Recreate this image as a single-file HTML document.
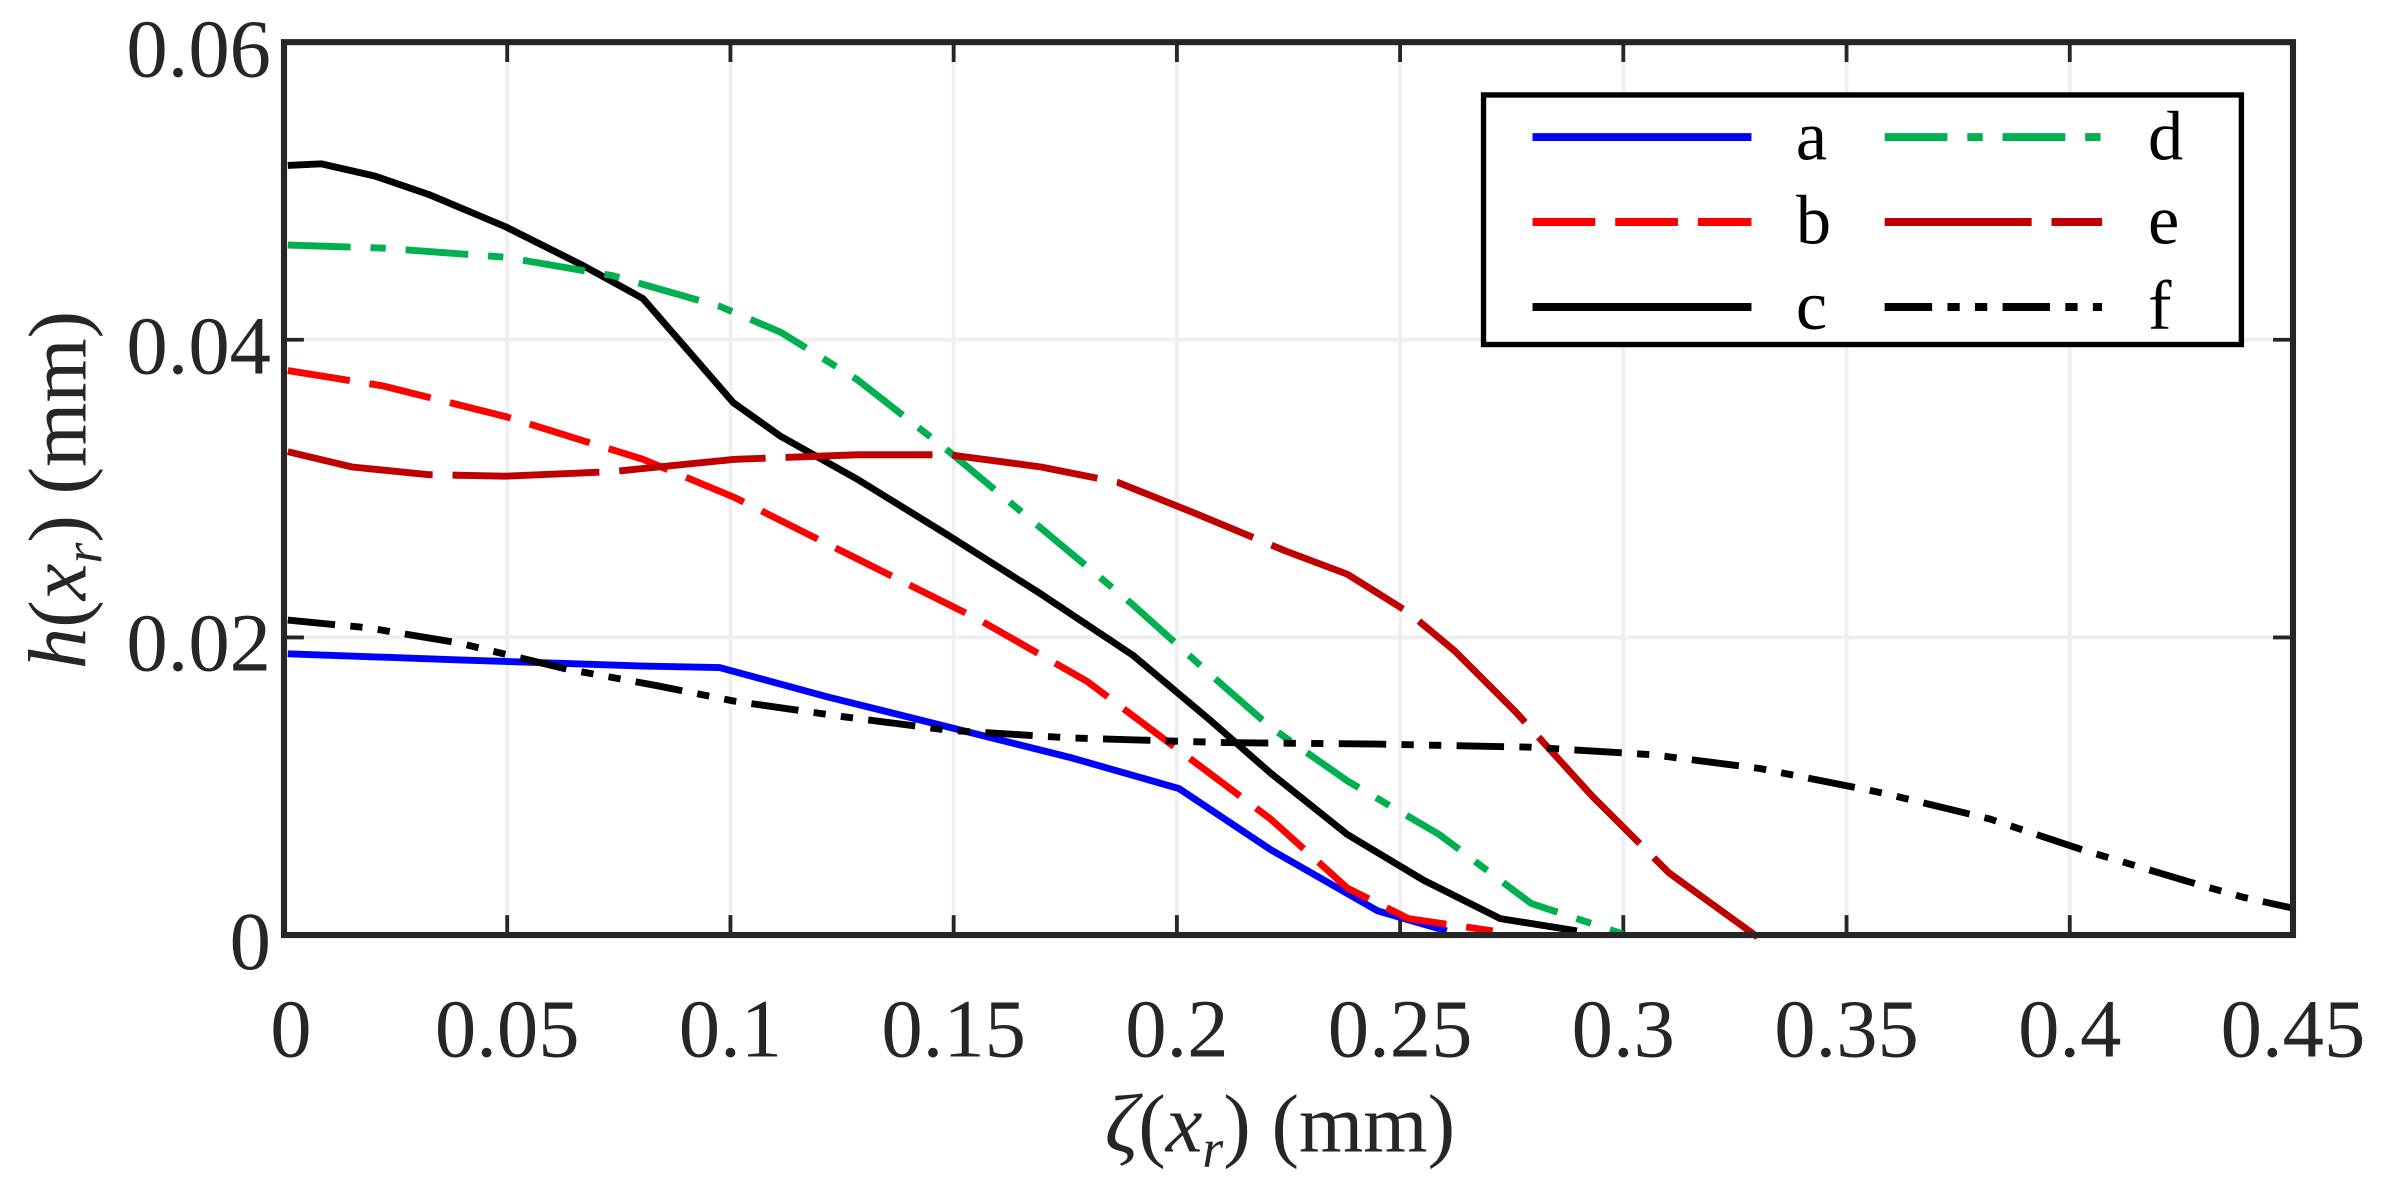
<!DOCTYPE html>
<html><head><meta charset="utf-8"><style>
html,body{margin:0;padding:0;background:#fff;}
svg{display:block;}
text{font-family:"Liberation Serif",serif;fill:#262626;}
</style></head><body>
<svg width="2400" height="1186" viewBox="0 0 1567.6 774.6" xmlns="http://www.w3.org/2000/svg">
<rect x="0" y="0" width="1567.6" height="774.6" fill="#fff"/>
<g stroke="#efefef" stroke-width="2.5">
<line x1="331.3" y1="27.5" x2="331.3" y2="610.7"/>
<line x1="477.1" y1="27.5" x2="477.1" y2="610.7"/>
<line x1="622.9" y1="27.5" x2="622.9" y2="610.7"/>
<line x1="768.7" y1="27.5" x2="768.7" y2="610.7"/>
<line x1="914.5" y1="27.5" x2="914.5" y2="610.7"/>
<line x1="1060.3" y1="27.5" x2="1060.3" y2="610.7"/>
<line x1="1206.1" y1="27.5" x2="1206.1" y2="610.7"/>
<line x1="1351.9" y1="27.5" x2="1351.9" y2="610.7"/>
<line x1="185.5" y1="416.3" x2="1497.7" y2="416.3"/>
<line x1="185.5" y1="221.9" x2="1497.7" y2="221.9"/>
</g>
<g stroke="#262626" stroke-width="2.5">
<path d="M331.3 610.7v-13M477.1 610.7v-13M622.9 610.7v-13M768.7 610.7v-13M914.5 610.7v-13M1060.3 610.7v-13M1206.1 610.7v-13M1351.9 610.7v-13"/>
<path d="M331.3 27.5v13M477.1 27.5v13M622.9 27.5v13M768.7 27.5v13M914.5 27.5v13M1060.3 27.5v13M1206.1 27.5v13M1351.9 27.5v13"/>
<path d="M185.5 416.3h13M185.5 221.9h13M1497.7 416.3h-13M1497.7 221.9h-13"/>
</g>
<g fill="none" stroke-width="4.5" stroke-linejoin="round">
<polyline stroke="#0000ff" points="188,427 300,431 420,435 470,436 540,455 620,475 700,495 770,515 830,555 900,595 945,608"/>
<polyline stroke="#ff0000" stroke-dasharray="41 13" points="188,242 250,252 330,272 420,300 480,325 560,365 640,405 710,445 770,490 830,535 880,580 920,600 975,608"/>
<polyline stroke="#000" points="188,108 210,107 245,115 280,127 330,148 380,173 420,195 479,263 510,285 560,313 620,350 680,388 740,428 790,470 830,505 880,545 930,575 980,600 1030,608"/>
<polyline stroke="#00b050" stroke-dasharray="41 13 10 13" points="188,160 250,162 330,168 400,180 470,200 510,217 560,248 620,295 680,345 740,395 790,440 830,475 880,510 940,545 1000,590 1060,610"/>
<polyline stroke="#c00000" stroke-dasharray="96 13" points="188,295 230,305 280,310 330,311 400,308 480,300 560,297 620,297 680,305 730,315 780,335 840,360 880,375 920,400 950,425 990,465 1040,520 1090,570 1148,612"/>
<polyline stroke="#000" stroke-dasharray="31 10 8 10 8 10" points="188,405 240,410 300,420 370,437 430,448 480,458 550,468 620,477 700,482 800,485 900,486 1000,488 1080,493 1150,502 1230,518 1300,535 1360,555 1430,576 1465,586 1497,593"/>
</g>
<rect x="185.5" y="27.5" width="1312.2" height="583.2" fill="none" stroke="#262626" stroke-width="4"/>
<g font-size="54" text-anchor="middle">
<text x="190" y="690">0</text>
<text x="331.3" y="690">0.05</text>
<text x="477.1" y="690">0.1</text>
<text x="622.9" y="690">0.15</text>
<text x="768.7" y="690">0.2</text>
<text x="914.5" y="690">0.25</text>
<text x="1060.3" y="690">0.3</text>
<text x="1206.1" y="690">0.35</text>
<text x="1351.9" y="690">0.4</text>
<text x="1497.7" y="690">0.45</text>
</g>
<g font-size="54" text-anchor="end">
<text x="177" y="633">0</text>
<text x="177" y="438">0.02</text>
<text x="177" y="244">0.04</text>
<text x="177" y="50">0.06</text>
</g>
<text x="836" y="752" font-size="54" text-anchor="middle"><tspan font-style="italic">ζ</tspan>(<tspan font-style="italic">x</tspan><tspan font-style="italic" font-size="35" dy="10">r</tspan><tspan dy="-10">) (mm)</tspan></text>
<text transform="translate(56,320) rotate(-90)" font-size="54" text-anchor="middle"><tspan font-style="italic">h</tspan>(<tspan font-style="italic">x</tspan><tspan font-style="italic" font-size="35" dy="10">r</tspan><tspan dy="-10">) (mm)</tspan></text>
<rect x="969" y="62" width="495" height="163" fill="#fff" stroke="#000" stroke-width="3.5"/>
<g stroke-width="5.2" fill="none">
<line x1="1001" y1="89.5" x2="1144" y2="89.5" stroke="#0000ff"/>
<line x1="1001" y1="145" x2="1144" y2="145" stroke="#ff0000" stroke-dasharray="41 13"/>
<line x1="1001" y1="200.5" x2="1144" y2="200.5" stroke="#000"/>
<line x1="1231" y1="89.5" x2="1373" y2="89.5" stroke="#00b050" stroke-dasharray="41 13 10 13"/>
<line x1="1231" y1="145" x2="1373" y2="145" stroke="#c00000" stroke-dasharray="96 13"/>
<line x1="1231" y1="200.5" x2="1373" y2="200.5" stroke="#000" stroke-dasharray="31 10 8 10 8 10"/>
</g>
<g font-size="46">
<text x="1173" y="104" style="fill:#000">a</text>
<text x="1173" y="159" style="fill:#000">b</text>
<text x="1173" y="215" style="fill:#000">c</text>
<text x="1403" y="104" style="fill:#000">d</text>
<text x="1403" y="159" style="fill:#000">e</text>
<text x="1403" y="215" style="fill:#000">f</text>
</g>
</svg>
</body></html>
